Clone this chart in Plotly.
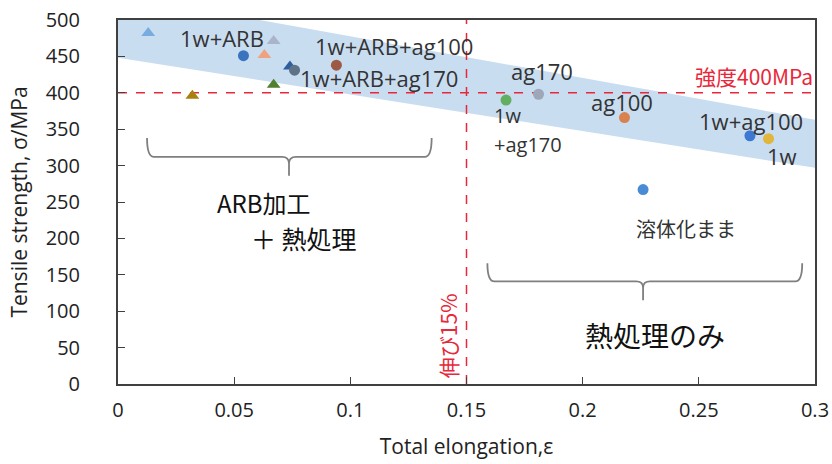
import plotly.graph_objects as go

# ---- data ----
sample_names = ["ARB-a", "ARB-b", "ARB-c", "1w+ARB", "ARB-d", "1w+ARB+ag170", "1w+ARB+ag100",
                "ARB-e", "ARB-f", "1w+ag170", "ag170", "ag100", "1w+ag100", "1w", "溶体化まま"]
elongation = [0.013, 0.067, 0.063, 0.054, 0.074, 0.076, 0.094,
              0.067, 0.032, 0.167, 0.181, 0.218, 0.272, 0.280, 0.226]
strength = [482, 471, 452, 451, 436, 431, 438,
            411, 396, 390, 398, 366, 341, 337, 267]
marker_symbols = ["triangle-up", "triangle-up", "triangle-up", "circle", "triangle-up", "circle", "circle",
                  "triangle-up", "triangle-up", "circle", "circle", "circle", "circle", "circle", "circle"]
marker_colors = ["#78ACE0", "#A9B3C9", "#F0A27E", "#3A74BE", "#2F5E9E", "#5E7387", "#9C5A44",
                 "#4F7F2F", "#A8820E", "#62AE62", "#9DA7B7", "#D8834F", "#3D78D2", "#E2B53C", "#4A8BD6"]

band_x = [0.0, 0.3, 0.3, 0.0]
band_y = [535, 363, 297, 448]

strength_limit = 400
elongation_limit = 0.15

x_ticks = [0, 0.05, 0.1, 0.15, 0.2, 0.25, 0.3]
x_tick_labels = ["0", "0.05", "0.1", "0.15", "0.2", "0.25", "0.3"]
y_ticks = [0, 50, 100, 150, 200, 250, 300, 350, 400, 450, 500]

FONT = "Open Sans, Noto Sans CJK JP, sans-serif"
JP = "Noto Sans CJK JP, sans-serif"

fig = go.Figure()

# band
fig.add_trace(go.Scatter(x=band_x + [band_x[0]], y=band_y + [band_y[0]], fill="toself",
                         fillcolor="#C9DDF1", line=dict(width=0), mode="lines",
                         hoverinfo="skip", showlegend=False))

# reference lines
fig.add_trace(go.Scatter(x=[0, 0.3], y=[strength_limit, strength_limit], mode="lines",
                         line=dict(color="#E8283A", width=1.5, dash="dash"), showlegend=False))
fig.add_trace(go.Scatter(x=[elongation_limit, elongation_limit], y=[0, 500], mode="lines",
                         line=dict(color="#E8283A", width=1.5, dash="dash"), showlegend=False))

# points
for name, xv, yv, sym, col in zip(sample_names, elongation, strength, marker_symbols, marker_colors):
    fig.add_trace(go.Scatter(x=[xv], y=[yv], mode="markers", name=name,
                             marker=dict(symbol=sym, color=col, size=11 if sym == "circle" else 12,
                                         line=dict(width=0)),
                             showlegend=False))

def brace(x0, x1, xc, ytop, ymid, ytip, dx):
    dy = (ytop - ymid) * 0.35
    return (f"M {x0},{ytop} Q {x0},{ymid} {x0+dx},{ymid} L {xc-dx},{ymid} "
            f"Q {xc},{ymid} {xc},{ymid-dy} L {xc},{ytip} "
            f"M {xc},{ymid-dy} Q {xc},{ymid} {xc+dx},{ymid} L {x1-dx},{ymid} "
            f"Q {x1},{ymid} {x1},{ytop}")

fig.add_shape(type="path", path=brace(0.0125, 0.135, 0.0736, 338, 312, 286, 0.003),
              xref="x", yref="y", line=dict(color="#7F7F7F", width=1.8))
fig.add_shape(type="path", path=brace(0.159, 0.2945, 0.226, 166, 141, 115, 0.003),
              xref="x", yref="y", line=dict(color="#7F7F7F", width=1.8))

lab_col = "#333333"
def ann(x, y, text, size=22, color=lab_col, family=FONT, xanchor="center", angle=0):
    fig.add_annotation(x=x, y=y, xref="x", yref="y", text=text, showarrow=False,
                       font=dict(size=size, color=color, family=family), xanchor=xanchor,
                       textangle=angle)

ann(0.0448, 475, "1w+ARB")
ann(0.119, 464, "1w+ARB+ag100")
ann(0.1124, 420, "1w+ARB+ag170")
ann(0.1825, 430, "ag170")
ann(0.161, 369, "1w", size=20, xanchor="left")
ann(0.161, 329, "+ag170", size=20, xanchor="left")
ann(0.217, 387, "ag100")
ann(0.2725, 361, "1w+ag100")
ann(0.2858, 313, "1w")
ann(0.2738, 423, "強度400MPa", size=21, color="#E8283A", family=JP)
ann(0.2445, 213, "溶体化まま", size=20, family=JP)
ann(0.0628, 250, "ARB加工", size=24, color="#111111", family=JP)
ann(0.080, 200, "＋ 熱処理", size=25, color="#111111", family=JP)
ann(0.2312, 67, "熱処理のみ", size=28, color="#111111", family=JP)
ann(0.142, 67, "伸び15%", size=21, color="#E8283A", family=JP, angle=-90)

axis_common = dict(showline=True, linecolor="#404040", linewidth=2, mirror=True,
                   ticks="inside", ticklen=7, tickcolor="#404040", tickwidth=1,
                   showgrid=False, zeroline=False, automargin=False,
                   ticklabeloverflow="allow",
                   tickfont=dict(size=20, color="#222222", family=FONT))

fig.update_xaxes(range=[0, 0.3], tickvals=x_ticks, ticktext=x_tick_labels,
                 ticklabelstandoff=7,
                 title=dict(text="Total elongation,ε", font=dict(size=21, color="#222222", family=FONT),
                            standoff=17),
                 **axis_common)
fig.update_yaxes(range=[0, 500], tickvals=y_ticks,
                 ticklabelstandoff=32,
                 title=dict(text="Tensile strength, σ/MPa", font=dict(size=21, color="#222222", family=FONT),
                            standoff=12),
                 **axis_common)

fig.update_layout(width=832, height=464, margin=dict(l=118, r=17, t=20, b=80),
                  plot_bgcolor="white", paper_bgcolor="white", showlegend=False)

# remove the default page margin so the figure fills the window exactly
fig.write_html("out.html", config={"displayModeBar": False},
               post_script="document.body.style.margin='0';document.body.style.overflow='hidden';")
